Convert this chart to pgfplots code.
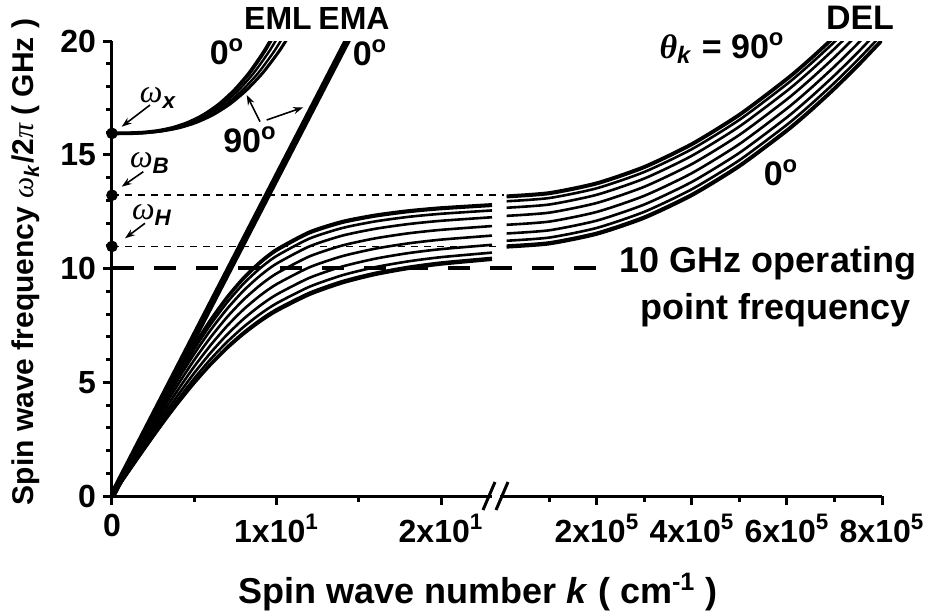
\documentclass[border=0pt]{standalone}
\usepackage{fontspec}
\setmainfont{Liberation Sans}
\newfontfamily\serifgr{Liberation Serif}
\usepackage{pgfplots}
\pgfplotsset{compat=1.18}
\usepackage{pgfplotstable}
\usetikzlibrary{arrows.meta}

% lower band, left segment: k (x10 cm^-1 units as on the axis), theta = 0..90 deg
\pgfplotstableread{
k t0 t10 t20 t30 t40 t50 t60 t70 t80 t90
0 0 0 0 0 0 0 0 0 0 0
1 1.050 1.062 1.095 1.144 1.203 1.263 1.318 1.362 1.391 1.400
2 2.088 2.111 2.176 2.273 2.388 2.507 2.616 2.701 2.759 2.777
3 3.099 3.133 3.230 3.375 3.547 3.723 3.887 4.013 4.099 4.126
4 4.059 4.104 4.234 4.426 4.654 4.889 5.106 5.274 5.389 5.424
5 4.952 5.008 5.169 5.408 5.691 5.982 6.251 6.460 6.602 6.646
6 5.762 5.828 6.019 6.301 6.636 6.981 7.300 7.546 7.715 7.767
7 6.484 6.559 6.776 7.097 7.477 7.869 8.231 8.511 8.703 8.762
8 7.113 7.195 7.433 7.785 8.202 8.631 9.028 9.335 9.545 9.610
9 7.656 7.743 7.994 8.367 8.809 9.264 9.684 10.009 10.231 10.300
10 8.118 8.208 8.468 8.853 9.309 9.779 10.213 10.549 10.779 10.850
12 8.841 8.933 9.197 9.589 10.053 10.531 10.972 11.314 11.548 11.620
14 9.355 9.445 9.704 10.088 10.543 11.012 11.445 11.780 12.009 12.080
16 9.721 9.808 10.059 10.431 10.872 11.325 11.745 12.070 12.291 12.360
18 9.985 10.070 10.313 10.675 11.103 11.545 11.952 12.268 12.483 12.550
20 10.178 10.261 10.498 10.851 11.269 11.699 12.097 12.405 12.615 12.680
23.1 10.386 10.466 10.698 11.041 11.447 11.866 12.253 12.552 12.757 12.820
}\lowband

% DEL band, right segment: K = k / 1e5
\pgfplotstableread{
K t0 t10 t20 t30 t40 t50 t60 t70 t80 t90
0.1 10.931 11.006 11.220 11.540 11.921 12.314 12.671 12.956 13.138 13.200
1 11.072 11.147 11.361 11.681 12.063 12.456 12.814 13.099 13.281 13.344
2 11.497 11.572 11.786 12.107 12.489 12.883 13.243 13.529 13.713 13.776
3 12.205 12.280 12.495 12.816 13.199 13.596 13.958 14.246 14.431 14.495
4 13.197 13.272 13.487 13.809 14.194 14.593 14.958 15.249 15.436 15.501
5 14.473 14.548 14.763 15.086 15.473 15.875 16.244 16.538 16.727 16.792
6 16.031 16.106 16.322 16.646 17.035 17.439 17.811 18.109 18.300 18.366
6.5 16.917 16.992 17.208 17.532 17.922 18.328 18.702 19.001 19.193 19.260
7 17.873 17.948 18.164 18.489 18.880 19.287 19.662 19.963 20.157 20.224
7.5 18.901 18.976 19.192 19.517 19.909 20.318 20.690 21.000 21.190 21.260
8 19.999 20.074 20.290 20.620 21.010 21.420 21.800 22.100 22.300 22.360
}\delband

% EML band (upper branch): f and k for four lines, 0 deg ... 90 deg
\pgfplotstableread{
f a b c d
15.940 0 0 0 0
15.944 0.93 0.96 0.99 1.02
15.972 1.86 1.92 1.98 2.04
16.045 2.79 2.88 2.97 3.06
16.185 3.72 3.84 3.96 4.08
16.414 4.65 4.80 4.95 5.10
16.750 5.58 5.76 5.94 6.12
17.215 6.51 6.72 6.93 7.14
17.830 7.44 7.68 7.92 8.16
18.613 8.37 8.64 8.91 9.18
19.593 9.30 9.60 9.90 10.20
20.530 10.044 10.368 10.692 11.016
}\emlband

\pgfplotsset{
  brk/.style={
    scale only axis, height=227.5pt, ymin=0, ymax=20,
    axis line style={line width=1.5pt,-},
    tick align=outside,
    major tick length=4.5pt, minor tick length=2.8pt,
    every tick/.style={line width=1.5pt, black},
    tick label style={font=\bfseries\fontsize{16}{16}\selectfont},
    xticklabel style={yshift=-1pt},
  },
  cv/.style={black, line width=1.3pt, smooth, tension=0.4},
}

\begin{document}
\begin{tikzpicture}[x=1pt,y=1pt]
\path[use as bounding box] (0pt,0pt) rectangle (464pt,306pt);

% ---------- left segment ----------
\begin{axis}[brk,
  at={(56pt,58pt)}, anchor=south west, width=190pt,
  xmin=0, xmax=23.1,
  axis x line*=bottom, axis y line*=left,
  xtick={0,10,20},
  xticklabels={0,1x10\textsuperscript{1},2x10\textsuperscript{1}},
  minor xtick={5,15},
  ytick={0,5,10,15,20}, yticklabels={0,5,10,15,20},
  minor ytick={1,2,3,4,6,7,8,9,11,12,13,14,16,17,18,19},
]
\foreach \c in {t0,t10,t20,t30,t40,t50,t60,t70,t80,t90}{
  \addplot[cv] table[x=k, y=\c] {\lowband};
}
\addplot[black, line width=3.4pt] coordinates {(0,0) (14.6,20.44)};
\addplot[cv, line width=1.9pt] table[x=a, y=f] {\emlband};
\addplot[cv, line width=1.2pt] table[x=b, y=f] {\emlband};
\addplot[cv, line width=1.2pt] table[x=c, y=f] {\emlband};
\addplot[cv, line width=1.5pt] table[x=d, y=f] {\emlband};
\end{axis}

% ---------- right segment ----------
\begin{axis}[brk,
  at={(250pt,58pt)}, anchor=south west, width=191pt,
  xmin=-0.04, xmax=8,
  axis x line*=bottom, axis y line=none,
  xtick={2,4,6,8},
  xticklabels={2x10\textsuperscript{5},4x10\textsuperscript{5},6x10\textsuperscript{5},8x10\textsuperscript{5}},
  minor xtick={1,3,5,7},
  ytick=\empty,
]
\foreach \c in {t0,t10,t20,t30,t40,t50,t60,t70,t80,t90}{
  \addplot[cv] table[x=K, y=\c] {\delband};
}
\end{axis}

% ---------- overlay: reference levels and marked frequencies ----------
\begin{axis}[scale only axis, at={(56pt,58pt)}, anchor=south west,
  width=190pt, height=227.5pt, xmin=0, xmax=23.1, ymin=0, ymax=20,
  hide axis, clip=false]
\addplot[black, line width=0.75pt, dash pattern=on 3.5pt off 3pt] coordinates {(0,13.22) (23.8,13.22)};
\addplot[black, line width=0.75pt, dash pattern=on 3.5pt off 3pt] coordinates {(0,10.97) (23.5,10.97)};
\addplot[black, line width=1.8pt, dash pattern=on 11pt off 10pt] coordinates {(0,10.02) (30.15,10.02)};
\addplot[only marks, mark=*, mark size=2.7pt, black] coordinates {(0,15.94) (0,13.22) (0,10.97)};
\end{axis}

% axis break marks
\draw[line width=1.5pt] (241.5pt,51pt) -- (247.5pt,65pt);
\draw[line width=1.5pt] (248pt,51pt) -- (254pt,65pt);

% annotations
\begin{scope}[every node/.style={inner sep=0.5pt}]
\begin{scope}[font=\bfseries\fontsize{16}{16}\selectfont]
\node at (139pt,297pt) {EML};
\node at (177pt,297pt) {EMA};
\end{scope}
\begin{scope}[font=\bfseries\fontsize{17}{17}\selectfont]
\node at (113.5pt,280pt) {0\textsuperscript{o}};
\node at (185pt,279.5pt) {0\textsuperscript{o}};
\node at (125pt,236pt) {90\textsuperscript{o}};
\node at (430pt,297pt) {DEL};
\node at (361pt,282pt) {{\serifgr\itshape θ}\textsubscript{\textit{k}} = 90\textsuperscript{o}};
\node at (390.5pt,219.5pt) {0\textsuperscript{o}};
\end{scope}
\begin{scope}[font=\bfseries\fontsize{18}{18}\selectfont]
\node at (384pt,174.5pt) {10 GHz operating};
\node at (388pt,151pt) {point frequency};
\end{scope}
\begin{scope}[font=\fontsize{16}{16}\selectfont]
\node at (79pt,257pt) {{\serifgr\itshape ω}\textsubscript{\bfseries\itshape x}};
\node at (75pt,224.5pt) {{\serifgr\itshape ω}\textsubscript{\bfseries\itshape B}};
\node at (76pt,198.5pt) {{\serifgr\itshape ω}\textsubscript{\bfseries\itshape H}};
\end{scope}
\end{scope}
\begin{scope}[line width=0.8pt, -{Stealth[length=5pt,width=3.5pt]}]
\draw (75pt,253.5pt) -- (60.85pt,242.65pt);
\draw (71.65pt,220.15pt) -- (60.85pt,212.65pt);
\draw (72.5pt,194.35pt) -- (62.5pt,186.85pt);
\draw (130pt,245.15pt) -- (123.35pt,258.5pt);
\draw (133.35pt,246pt) -- (151.65pt,252.35pt);
\end{scope}

% axis titles
\node[font=\bfseries\fontsize{18}{18}\selectfont] at (239pt,10pt)
  {Spin wave number \textit{k} ( cm\textsuperscript{-1} )};
\node[rotate=90, font=\bfseries\fontsize{15}{15}\selectfont] at (13pt,175pt)
  {Spin wave frequency {\serifgr\mdseries\itshape ω}\textsubscript{\textit{k}}/2{\serifgr\mdseries\itshape π} ( GHz )};
\end{tikzpicture}
\end{document}
